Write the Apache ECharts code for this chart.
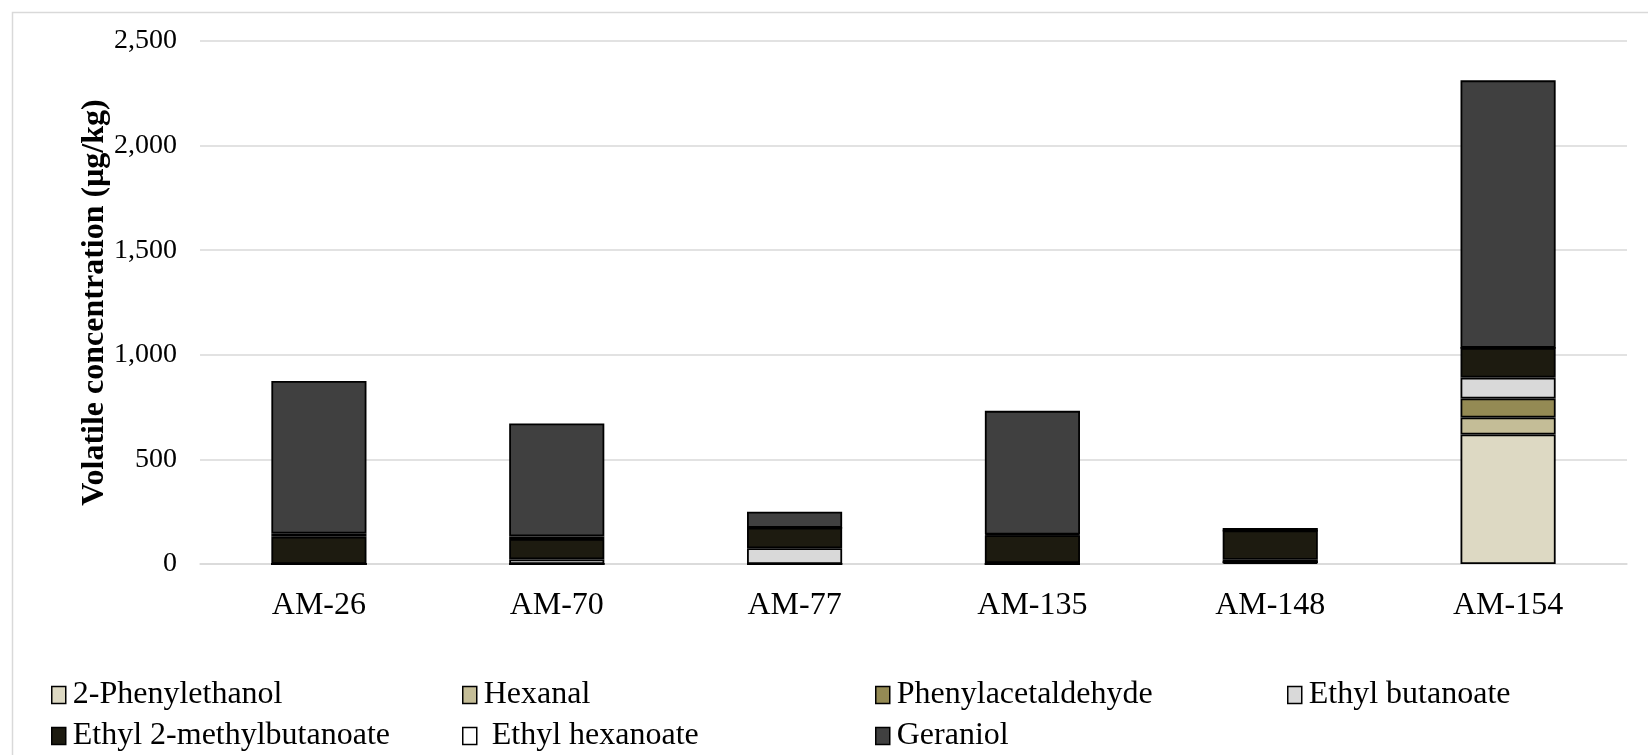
<!DOCTYPE html>
<html>
<head>
<meta charset="utf-8">
<script src="https://cdn.jsdelivr.net/npm/echarts@6/dist/echarts.min.js"></script>
<style>
  html, body { margin: 0; padding: 0; background: #fff; }
  #chart { width: 1648px; height: 755px; }
</style>
</head>
<body>
<div id="chart"></div>
<script>
// samples on the x axis
const categories = ["AM-26", "AM-70", "AM-77", "AM-135", "AM-148", "AM-154"];

// volatile compounds, μg/kg
const phenylethanol     = [0,   0,   0,  0,   8,   619];
const hexanal           = [0,   0,   0,  0,   0,   81];
const phenylacetaldehyde = [0,  0,   0,  0,   0,   91];
const ethylButanoate    = [0,   22,  75, 4,   12,  100];
const ethylMethylbutanoate = [130, 98, 98, 134, 140, 142];
const ethylHexanoate    = [15,  12,  0,  3,   0,   0];
const geraniol          = [730, 540, 77, 591, 12,  1279];

const yTicks = [0, 500, 1000, 1500, 2000, 2500];

const seriesList = [
    { name: "2-Phenylethanol", data: phenylethanol, color: "#DDD9C3" },
    { name: "Hexanal", data: hexanal, color: "#C4BD97" },
    { name: "Phenylacetaldehyde", data: phenylacetaldehyde, color: "#948A54" },
    { name: "Ethyl butanoate", data: ethylButanoate, color: "#D9D9D9" },
    { name: "Ethyl 2-methylbutanoate", data: ethylMethylbutanoate, color: "#1D1B10" },
    { name: " Ethyl hexanoate", data: ethylHexanoate, color: "#FFFFFF" },
    { name: "Geraniol", data: geraniol, color: "#404040" }
];

// legend slots: two rows, four columns
const legendPos = [
    [51, 679], [462, 679], [875, 679], [1287, 679],
    [51, 720], [462, 720], [875, 720]
];

const font = "'Liberation Serif', 'Times New Roman', serif";

let chart = echarts.init(document.getElementById("chart"));

let series = seriesList.map(s => ({
    name: s.name,
    type: "bar",
    stack: "total",
    barWidth: "40%",
    data: s.data,
    itemStyle: {
        color: s.color,
        borderColor: "#000",
        borderWidth: 1.8
    }
}));

let legends = seriesList.map((s, idx) => ({
    data: [{ name: s.name, icon: "rect" }],
    left: legendPos[idx][0],
    top: legendPos[idx][1],
    itemWidth: 14,
    itemHeight: 17,
    itemGap: 4,
    padding: 0,
    selectedMode: false,
    itemStyle: { borderColor: "#000", borderWidth: 1.5 },
    textStyle: { fontFamily: font, fontSize: 32, color: "#000", padding: [0, 0, 0, 2] }
}));

let options = {
    animation: false,
    textStyle: { fontFamily: font },
    graphic: [{
        type: "rect",
        shape: { x: 12.5, y: 12.5, width: 1700, height: 800 },
        style: { fill: "none", stroke: "#D9D9D9", lineWidth: 1.5 },
        silent: true
    }],
    legend: legends,
    grid: {
        left: 200,
        right: 21,
        top: 41,
        bottom: 191
    },
    xAxis: {
        type: "category",
        data: categories,
        axisTick: { show: false },
        axisLine: { lineStyle: { color: "#D9D9D9", width: 1.5 } },
        axisLabel: {
            margin: 26,
            fontFamily: font,
            fontSize: 32,
            color: "#000"
        }
    },
    yAxis: {
        type: "value",
        min: yTicks[0],
        max: yTicks[yTicks.length - 1],
        interval: yTicks[1] - yTicks[0],
        name: "Volatile concentration (μg/kg)",
        nameLocation: "middle",
        nameGap: 89,
        nameMoveOverlap: false,
        nameTextStyle: {
            fontFamily: font,
            fontSize: 32,
            fontWeight: "bold",
            color: "#000"
        },
        axisLine: { show: false },
        axisTick: { show: false },
        axisLabel: {
            margin: 23,
            fontFamily: font,
            fontSize: 28,
            color: "#000",
            formatter: v => v.toLocaleString("en-US")
        },
        splitLine: { lineStyle: { color: "#D9D9D9", width: 1.5 } }
    },
    series: series
};

chart.setOption(options);
</script>
</body>
</html>
